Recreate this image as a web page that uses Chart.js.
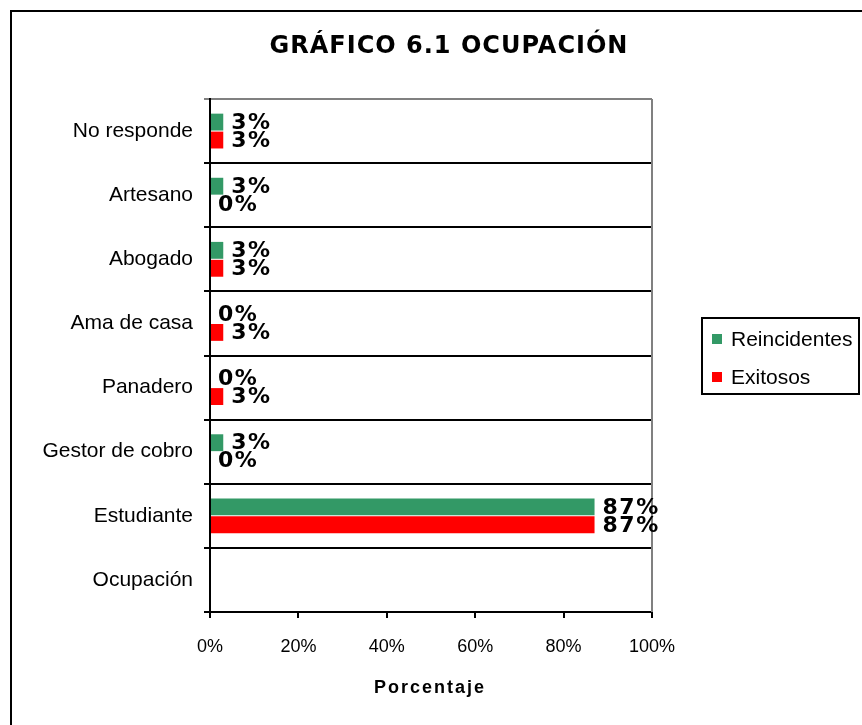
<!DOCTYPE html>
<html>
<head>
<meta charset="utf-8">
<script src="https://cdn.jsdelivr.net/npm/chart.js@4"></script>
<style>
  html, body { margin: 0; padding: 0; background: #fff; }
  #wrap { width: 862px; height: 725px; }
</style>
</head>
<body>
<div id="wrap"><canvas id="chart" width="862" height="725"></canvas></div>
<script>
// data
const categories = ["No responde", "Artesano", "Abogado", "Ama de casa", "Panadero", "Gestor de cobro", "Estudiante", "Ocupación"];
const reincidentes = [3, 3, 3, 0, 0, 3, 87, null];
const exitosos = [3, 0, 3, 3, 3, 0, 87, null];
const xTicks = [0, 20, 40, 60, 80, 100];
const chartTitle = "GRÁFICO 6.1 OCUPACIÓN";
const xTitle = "Porcentaje";

const GREEN = "#339966";
const RED = "#FF0000";

// frame, title, axis title, value labels and legend box
const extras = {
  id: "extras",
  beforeDraw(chart) {
    const c = chart.ctx;
    c.save();
    c.strokeStyle = "#000";
    c.lineWidth = 2;
    c.strokeRect(11, 11, 900, 800);
    c.restore();
  },
  afterDatasetsDraw(chart) {
    const c = chart.ctx;
    const a = chart.chartArea;
    c.save();
    // plot border right side (gray)
    c.strokeStyle = "#808080";
    c.lineWidth = 2;
    c.beginPath();
    c.moveTo(a.right, a.top);
    c.lineTo(a.right, a.bottom);
    c.stroke();

    // value labels
    c.fillStyle = "#000";
    c.font = "bold 22px 'DejaVu Sans'";
    c.letterSpacing = "1.5px";
    c.textAlign = "left";
    c.textBaseline = "middle";
    chart.data.datasets.forEach((ds, i) => {
      const meta = chart.getDatasetMeta(i);
      meta.data.forEach((bar, j) => {
        const v = ds.data[j];
        if (v === null || v === undefined) return;
        c.fillText(v + "%", bar.x + 8, bar.y + 1);
      });
    });

    // chart title
    c.font = "bold 24px 'DejaVu Sans'";
    c.letterSpacing = "1px";
    c.textAlign = "center";
    c.fillText(chartTitle, 449, 47);

    // x axis title
    c.font = "bold 18px 'Liberation Sans'";
    c.letterSpacing = "2px";
    c.fillText(xTitle, (a.left + a.right) / 2 - 1, 688);

    // legend
    c.letterSpacing = "0px";
    c.strokeStyle = "#000";
    c.lineWidth = 2;
    c.strokeRect(702, 318, 157, 76);
    c.font = "21px 'Liberation Sans'";
    c.textAlign = "left";
    chart.data.datasets.forEach((ds, i) => {
      const y = 339 + i * 38;
      c.fillStyle = ds.backgroundColor;
      c.fillRect(712, y - 5, 10, 10);
      c.fillStyle = "#000";
      c.fillText(ds.label, 731, y + 1);
    });
    c.restore();
  }
};

new Chart(document.getElementById("chart").getContext("2d"), {
  type: "bar",
  data: {
    labels: categories,
    datasets: [
      {
        label: "Reincidentes",
        data: reincidentes,
        backgroundColor: GREEN,
        borderWidth: 0,
        categoryPercentage: 0.56,
        barPercentage: 0.94
      },
      {
        label: "Exitosos",
        data: exitosos,
        backgroundColor: RED,
        borderWidth: 0,
        categoryPercentage: 0.56,
        barPercentage: 0.94
      }
    ]
  },
  options: {
    indexAxis: "y",
    responsive: false,
    animation: false,
    layout: { padding: { left: 10, right: 210, top: 99, bottom: 0 } },
    plugins: {
      legend: { display: false },
      title: { display: false },
      tooltip: { enabled: false }
    },
    scales: {
      x: {
        min: 0,
        max: 100,
        afterBuildTicks: (scale) => { scale.ticks = xTicks.map(v => ({ value: v })); },
        afterFit: (scale) => { scale.height = 113; },
        grid: {
          drawOnChartArea: false,
          color: "#000",
          lineWidth: 2,
          tickLength: 6
        },
        border: { color: "#000", width: 2 },
        ticks: {
          callback: (v) => v + "%",
          color: "#000",
          font: { family: "Liberation Sans", size: 18 },
          padding: 18,
          maxRotation: 0
        }
      },
      y: {
        afterFit: (scale) => { scale.width = 200; },
        grid: {
          offset: true,
          color: (ctx) => ctx.index === 0 ? "#808080" : "#000",
          lineWidth: 2,
          tickLength: 6
        },
        border: { color: "#000", width: 2 },
        ticks: {
          color: "#000",
          font: { family: "Liberation Sans", size: 21 },
          padding: 11
        }
      }
    }
  },
  plugins: [extras]
});
</script>
</body>
</html>
